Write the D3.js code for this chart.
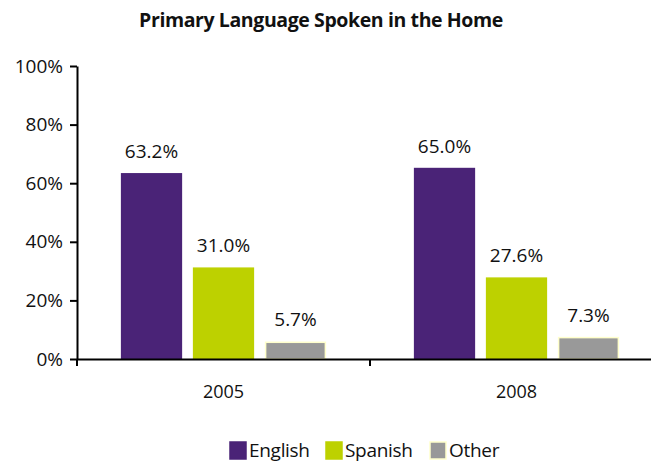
<!DOCTYPE html>
<html lang="en">
<head>
<meta charset="UTF-8">
<script src="https://d3js.org/d3.v7.min.js"></script>
<title>Primary Language Spoken in the Home</title>
<style>
  body { margin: 0; background: #fff; }
  text { font-family: "Open Sans", "DejaVu Sans", sans-serif; fill: #111; }
</style>
</head>
<body>
<svg id="chart" width="651" height="463"></svg>
<script>
const years = ["2005", "2008"];
const languages = ["English", "Spanish", "Other"];
const english = [63.2, 65.0];
const spanish = [31.0, 27.6];
const other = [5.7, 7.3];
const yTicks = [0, 20, 40, 60, 80, 100];

const colors = { English: "#4a2377", Spanish: "#bdd100", Other: "#999999" };
const strokes = { English: "#4a2377", Spanish: "#bdd100", Other: "#ffffcc" };

const rows = [];
years.forEach((yr, i) => {
  rows.push({ year: yr, lang: "English", value: english[i] });
  rows.push({ year: yr, lang: "Spanish", value: spanish[i] });
  rows.push({ year: yr, lang: "Other", value: other[i] });
});

const svg = d3.select("#chart");
const plotLeft = 77, plotTop = 66, plotBottom = 359;

const x = d3.scaleBand().domain(years).range([plotLeft, plotLeft + 2 * 293]).paddingInner(0).paddingOuter(0);
const xInner = d3.scaleBand().domain(languages).range([0, x.bandwidth()]).paddingInner(0.17).paddingOuter(0.62);
const y = d3.scaleLinear().domain([0, 100]).range([plotBottom, plotTop]);

// title
svg.append("text")
  .attr("x", 321).attr("y", 27)
  .attr("text-anchor", "middle")
  .style("font-size", "19.5px").style("font-weight", "bold")
  .style("letter-spacing", "-0.4px")
  .text("Primary Language Spoken in the Home");

// y axis
const yAxis = svg.append("g")
  .attr("transform", `translate(${plotLeft},0)`)
  .call(d3.axisLeft(y).tickValues(yTicks).tickFormat(d => d + "%").tickSize(7).tickSizeOuter(0));
yAxis.select(".domain").attr("stroke", "#000").attr("stroke-width", 2);
yAxis.selectAll(".tick line").attr("stroke", "#000").attr("stroke-width", 2);
yAxis.selectAll(".tick text").attr("x", -14).style("font-size", "19px").attr("fill", "#111");

// bars
svg.append("g").selectAll("rect").data(rows).join("rect")
  .attr("x", d => x(d.year) + xInner(d.lang))
  .attr("y", d => y(d.value))
  .attr("width", xInner.bandwidth())
  .attr("height", d => y(0) - y(d.value))
  .attr("fill", d => colors[d.lang])
  .attr("stroke", d => strokes[d.lang])
  .attr("stroke-width", 1.5);

// value labels
svg.append("g").selectAll("text").data(rows).join("text")
  .attr("x", d => x(d.year) + xInner(d.lang) + xInner.bandwidth() / 2)
  .attr("y", d => y(d.value) - 16)
  .attr("text-anchor", "middle")
  .style("font-size", "19px")
  .text(d => d.value.toFixed(1) + "%");

// x axis
const xAxis = svg.append("g")
  .attr("transform", `translate(0,${plotBottom})`)
  .call(d3.axisBottom(x).tickSize(0).tickSizeOuter(0));
xAxis.select(".domain").attr("stroke", "#000").attr("stroke-width", 2);
xAxis.selectAll(".tick text").attr("y", 26).attr("dy", "0.71em").style("font-size", "18px").attr("fill", "#111");
// boundary ticks between categories
svg.append("g").selectAll("line").data(years.slice(1)).join("line")
  .attr("x1", d => x(d)).attr("x2", d => x(d))
  .attr("y1", plotBottom).attr("y2", plotBottom + 7)
  .attr("stroke", "#000").attr("stroke-width", 2);
svg.append("line").attr("x1", plotLeft).attr("x2", plotLeft)
  .attr("y1", plotBottom).attr("y2", plotBottom + 7)
  .attr("stroke", "#000").attr("stroke-width", 2);

// legend
const legendX = [230, 326, 430];
const legend = svg.append("g").selectAll("g").data(languages).join("g")
  .attr("transform", (d, i) => `translate(${legendX[i]},442)`);
legend.append("rect")
  .attr("width", 16).attr("height", 17)
  .attr("fill", d => colors[d])
  .attr("stroke", d => strokes[d]).attr("stroke-width", 1.5);
legend.append("text")
  .attr("x", 19).attr("y", 15)
  .style("font-size", "19px")
  .style("letter-spacing", "-0.3px")
  .text(d => d);
</script>
</body>
</html>
